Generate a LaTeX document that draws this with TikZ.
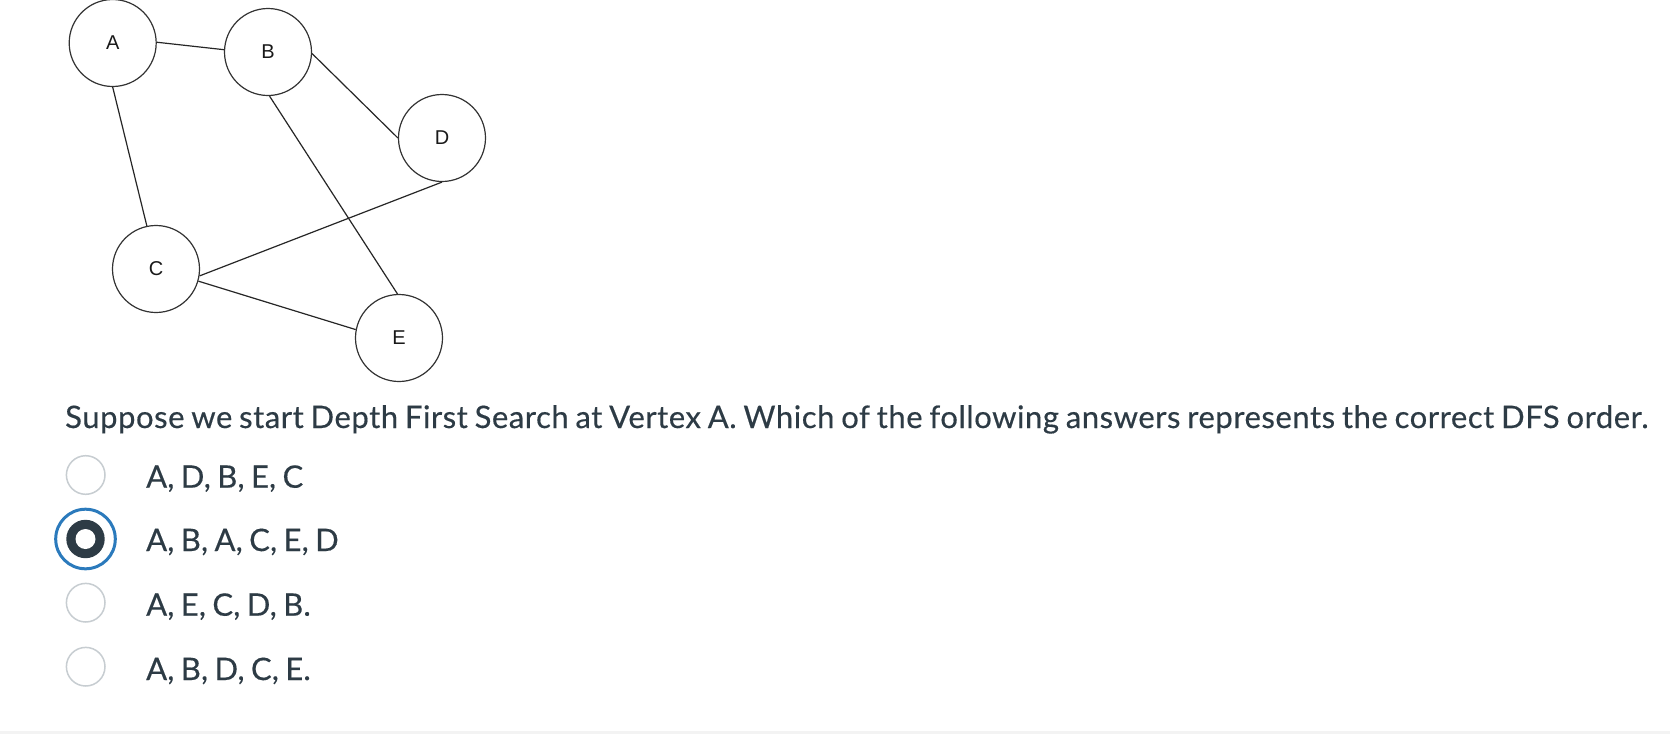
\documentclass[tikz,border=0pt]{standalone}
\usepackage{fontspec}
\setmainfont{Lato}[WordSpace=0.8,LetterSpace=1.8,FakeBold=0.4]
\newfontfamily\optfont{Lato}[WordSpace=0.8,LetterSpace=0.5,FakeBold=0.4]
\newfontfamily\graphfont{Liberation Sans}
\definecolor{canvastext}{HTML}{2D3B45}
\definecolor{radiogray}{HTML}{C7CDD1}
\definecolor{focusblue}{HTML}{2B7ABC}
\definecolor{stripgray}{HTML}{F3F3F3}
\begin{document}
\begin{tikzpicture}[x=1pt,y=-1pt,
  vertex/.style={draw=black!80,line width=1.2pt,circle,minimum size=87pt,inner sep=0pt,font=\graphfont\fontsize{20}{20}\selectfont,text=black!90},
  edge/.style={draw=black!85,line width=1.2pt},
  qtext/.style={anchor=base west,inner sep=0pt,text=canvastext,font=\fontsize{31}{36}\selectfont},
  otext/.style={anchor=base west,inner sep=0pt,text=canvastext,font=\optfont\fontsize{31}{36}\selectfont},
  radio/.style={draw=radiogray,line width=1.5pt,circle,minimum size=38.6pt,inner sep=0pt}
]
\useasboundingbox (0,0) rectangle (1670,734);
\fill[white] (0,0) rectangle (1670,734);
\fill[stripgray] (0,731) rectangle (1670,734);

% graph
\node[vertex] (A) at (112.7,43) {A};
\node[vertex] (B) at (268,52) {B};
\node[vertex] (D) at (442,138) {D};
\node[vertex] (C) at (156,269) {C};
\node[vertex] (E) at (399,338) {E};

\draw[edge] (A.1) -- (B.177);
\draw[edge] (B.-2) -- (D.180);
\draw[edge] (B.-88) -- (E.92);
\draw[edge] (A.-90) -- (C.102);
\draw[edge] (C.-9) -- (D.-90);
\draw[edge] (C.-16) -- (E.169);

% question
\node[qtext] (q) at (65,428) {Suppose we start Depth First Search at Vertex A. Which of the following answers represents the correct DFS order.};

% radios
\node[radio] (r1) at (85.7,475) {};
\node[draw=focusblue,line width=3pt,circle,minimum size=59.6pt,inner sep=0pt] (r2ring) at (85.5,539) {};
\node[fill=canvastext,circle,minimum size=38.4pt,inner sep=0pt] (r2) at (85.5,539) {};
\node[fill=white,circle,minimum size=20pt,inner sep=0pt] (r2dot) at (85.5,539) {};
\node[radio] (r3) at (85.7,602.7) {};
\node[radio] (r4) at (85.7,666.7) {};

% options
\node[otext] (o1) at (146,487.7) {A, D, B, E, C};
\node[otext] (o2) at (146,551) {A, B, A, C, E, D};
\node[otext] (o3) at (146,615.7) {A, E, C, D, B.};
\node[otext] (o4) at (146,680) {A, B, D, C, E.};
\end{tikzpicture}
\end{document}
